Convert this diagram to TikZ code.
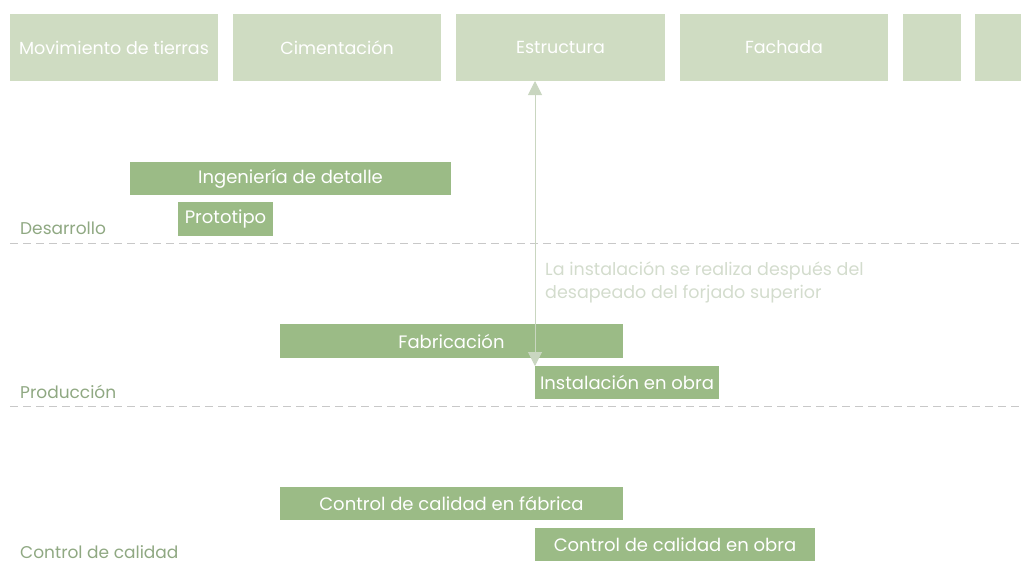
\documentclass[tikz,border=0pt]{standalone}
\usepackage{fontspec}
\setmainfont{Poppins}
\usetikzlibrary{arrows.meta}
\definecolor{phase}{HTML}{CFDCC2}
\definecolor{task}{HTML}{9BBB86}
\definecolor{lab}{HTML}{8FA882}
\definecolor{dash}{HTML}{C8C8C8}
\definecolor{note}{HTML}{D3DCCD}
\definecolor{arr}{HTML}{C9D6C0}
\tikzset{
  phasebox/.style={fill=phase, draw=none, text=white, inner sep=0pt, font=\fontsize{17.5}{20}\selectfont},
  taskbox/.style={fill=task, draw=none, text=white, inner sep=0pt, font=\fontsize{18}{20}\selectfont},
  rowlabel/.style={text=lab, anchor=west, inner sep=0pt, font=\fontsize{17}{20}\selectfont},
  sep/.style={draw=dash, dashed, dash pattern=on 8pt off 5pt, line width=0.8pt},
  notetext/.style={text=note, anchor=north west, align=left, inner sep=0pt, font=\fontsize{17.5}{23}\selectfont},
}
\begin{document}
\begin{tikzpicture}[x=1pt,y=-1pt]
\useasboundingbox (0,0) rectangle (1021,566);
% phase boxes
\node[phasebox, minimum width=208pt, minimum height=67pt] (p1) at (114,47.5) {Movimiento de tierras};
\node[phasebox, minimum width=208pt, minimum height=67pt] (p2) at (337,47.5) {Cimentación};
\node[phasebox, minimum width=209pt, minimum height=67pt] (p3) at (560.5,47.5) {Estructura};
\node[phasebox, minimum width=208pt, minimum height=67pt] (p4) at (784,47.5) {Fachada};
\node[phasebox, minimum width=58pt, minimum height=67pt] (p5) at (932,47.5) {};
\fill[phase] (975,14) rectangle (1021,81);
% separators
\coordinate (s1a) at (10,243); \coordinate (s1b) at (1021,243);
\coordinate (s2a) at (10,406); \coordinate (s2b) at (1021,406);
\draw[sep] (s1a) -- (s1b);
\draw[sep] (s2a) -- (s2b);
% row labels
\node[rowlabel] (l1) at (20,228) {Desarrollo};
\node[rowlabel] (l2) at (20,392) {Producción};
\node[rowlabel] (l3) at (20,552) {Control de calidad};
% tasks
\node[taskbox, minimum width=321pt, minimum height=33pt] (t1) at (290.5,178.5) {Ingeniería de detalle};
\node[taskbox, minimum width=95pt, minimum height=34pt] (t2) at (225.5,219) {Prototipo};
\node[taskbox, minimum width=343pt, minimum height=34pt] (t3) at (451.5,341) {Fabricación};
\node[taskbox, minimum width=184pt, minimum height=33pt] (t4) at (627,382.5) {Instalación en obra};
\node[taskbox, minimum width=343pt, minimum height=33pt] (t5) at (451.5,503.5) {Control de calidad en fábrica};
\node[taskbox, minimum width=280pt, minimum height=33pt] (t6) at (675,544.5) {Control de calidad en obra};
% note
\node[notetext] (n) at (545,261.5) {La instalación se realiza después del\\desapeado del forjado superior};
% arrow
\coordinate (ta) at (535,81);
\coordinate (tb) at (535,366);
\draw[arr, line width=1pt, {Triangle[width=14pt,length=14pt]}-{Triangle[width=14pt,length=14pt]}] (ta) -- (tb);
\end{tikzpicture}
\end{document}
